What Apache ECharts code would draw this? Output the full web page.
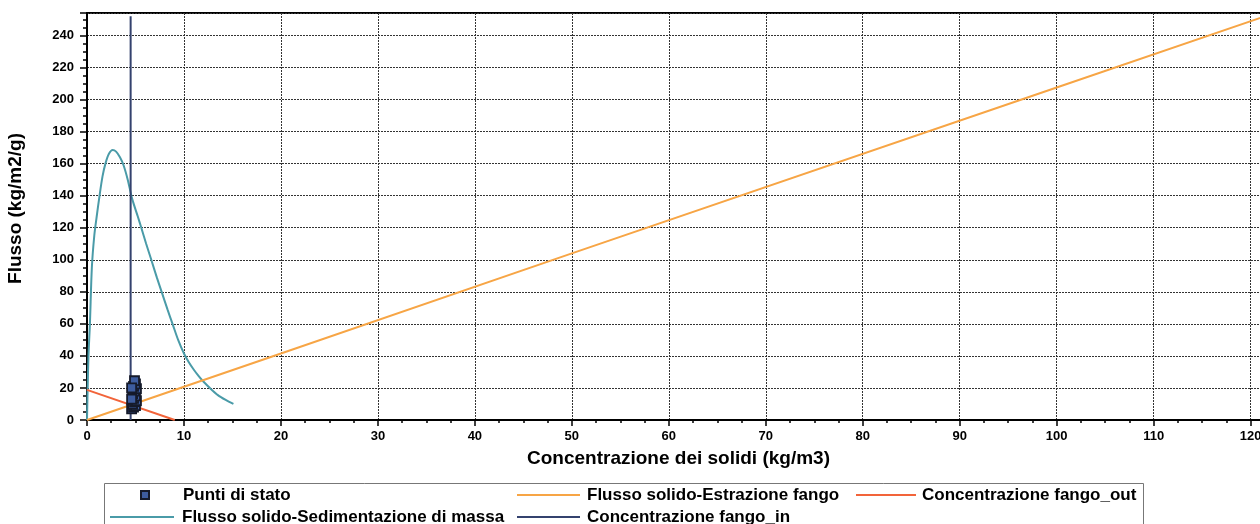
<!DOCTYPE html>
<html>
<head>
<meta charset="utf-8">
<script src="https://cdn.jsdelivr.net/npm/echarts@6/dist/echarts.min.js"></script>
<style>
html,body{margin:0;padding:0;background:#fff;overflow:hidden;}
#chart{width:1260px;height:524px;}
</style>
</head>
<body>
<div id="chart"></div>
<script>
// ---- data ----
var seriesNames = [
  'Punti di stato',
  'Flusso solido-Sedimentazione di massa',
  'Flusso solido-Estrazione fango',
  'Concentrazione fango_in',
  'Concentrazione fango_out'
];
var puntiDiStato = [
  [4.6, 7], [4.8, 8], [5.0, 9], [4.7, 10], [4.9, 11.5], [5.1, 12],
  [4.8, 13.5], [5.0, 15], [4.7, 16.5], [4.9, 18], [5.1, 19.5],
  [4.8, 21], [5.0, 22.5], [4.9, 24.5], [4.6, 20], [4.6, 13]
];
var sedimentazione = [
  [0, 0], [0.05, 15], [0.15, 40], [0.3, 60], [0.5, 95], [0.75, 115],
  [1.0, 127], [1.27, 139], [1.6, 152], [1.9, 160], [2.25, 166],
  [2.65, 168.5], [3.0, 167.5], [3.4, 164], [3.77, 159], [4.2, 150],
  [4.66, 138], [5.24, 127], [5.6, 120], [6.1, 110], [6.63, 100],
  [7.2, 89], [7.75, 79], [8.3, 69], [8.85, 59.5], [9.4, 50], [10, 41.5],
  [10.5, 36], [11, 31.5], [11.5, 27.5], [12, 24], [12.75, 19.5],
  [13.5, 15.5], [14.3, 12.5], [15.1, 10]
];
var estrazione = [[0, 0], [20, 41.5], [50, 104], [100, 207.5], [122, 253]];
var fangoIn = [[4.5, 0], [4.5, 252]];
var fangoOut = [[0, 18.8], [9.05, 0]];

var xName = 'Concentrazione dei solidi (kg/m3)';
var yName = 'Flusso (kg/m2/g)';

var FONT = '"Liberation Sans", Arial, sans-serif';
var colors = {
  punti: '#3d5c9e',
  sed: '#4a9ba8',
  estr: '#f7a545',
  fin: '#34426e',
  fout: '#f2643a'
};

function legendItem(name, left, top, w, h, pad) {
  return {
    show: true,
    data: [{ name: name, icon: 'rect' }],
    left: left,
    top: top,
    orient: 'horizontal',
    padding: 0,
    itemWidth: w,
    itemHeight: h,
    selectedMode: false,
    textStyle: {
      fontFamily: FONT, fontWeight: 'bold', fontSize: 17, color: '#000',
      lineHeight: 16, padding: [0, 0, 0, pad]
    }
  };
}

var chart = echarts.init(document.getElementById('chart'));
chart.setOption({
  animation: false,
  backgroundColor: '#fff',
  grid: {
    left: 87, width: 1183, top: 13, bottom: 104,
    outerBoundsMode: 'none', containLabel: false,
    show: true, borderColor: '#000', borderWidth: 2, backgroundColor: 'transparent'
  },
  graphic: [{
    type: 'rect',
    shape: { x: 104.5, y: 483.5, width: 1039, height: 60 },
    style: { fill: 'none', stroke: '#777', lineWidth: 1 },
    z: 0
  }],
  legend: [
    legendItem(seriesNames[0], 140, 486.5, 8, 8, 29),
    legendItem(seriesNames[2], 517, 486.5, 63, 2, 2),
    legendItem(seriesNames[4], 856, 486.5, 60, 2, 1),
    legendItem(seriesNames[1], 110, 508.5, 64, 2, 3),
    legendItem(seriesNames[3], 517, 508.5, 63, 2, 2)
  ],
  xAxis: {
    type: 'value',
    min: 0, max: 122, interval: 10,
    name: xName, nameLocation: 'middle', nameGap: 29,
    nameTextStyle: { fontFamily: FONT, fontWeight: 'bold', fontSize: 19, color: '#000' },
    axisLine: { show: true, onZero: false, lineStyle: { color: '#000', width: 2 } },
    axisTick: { show: true, inside: false, length: 6, lineStyle: { color: '#000', width: 1.5 } },
    minorTick: { show: true, splitNumber: 4, length: 3, lineStyle: { color: '#000', width: 1.5 } },
    axisLabel: {
      showMaxLabel: false, margin: 10,
      fontFamily: FONT, fontWeight: 'bold', fontSize: 13, color: '#000'
    },
    splitLine: { show: true, lineStyle: { color: '#333', width: 1, type: [2, 1] } }
  },
  yAxis: {
    type: 'value',
    min: 0, max: 254, interval: 20,
    name: yName, nameLocation: 'middle', nameGap: 62, nameRotate: 90,
    nameTextStyle: {
      fontFamily: FONT, fontWeight: 'bold', fontSize: 19, color: '#000',
      padding: [0, 0, 0, 16]
    },
    axisLine: { show: true, onZero: false, lineStyle: { color: '#000', width: 2 } },
    axisTick: { show: true, inside: false, length: 7, lineStyle: { color: '#000', width: 1.5 } },
    minorTick: { show: true, splitNumber: 4, length: 4, lineStyle: { color: '#000', width: 1.5 } },
    axisLabel: {
      showMaxLabel: false, margin: 13,
      fontFamily: FONT, fontWeight: 'bold', fontSize: 13, color: '#000'
    },
    splitLine: { show: true, lineStyle: { color: '#333', width: 1, type: [2, 1] } }
  },
  series: [
    {
      name: seriesNames[1], type: 'line', data: sedimentazione,
      smooth: 0.3, symbol: 'none', showSymbol: false,
      lineStyle: { color: colors.sed, width: 2 }, itemStyle: { color: colors.sed }, z: 3
    },
    {
      name: seriesNames[2], type: 'line', data: estrazione,
      symbol: 'none', showSymbol: false,
      lineStyle: { color: colors.estr, width: 2 }, itemStyle: { color: colors.estr }, z: 3
    },
    {
      name: seriesNames[4], type: 'line', data: fangoOut,
      symbol: 'none', showSymbol: false,
      lineStyle: { color: colors.fout, width: 2 }, itemStyle: { color: colors.fout }, z: 4
    },
    {
      name: seriesNames[3], type: 'line', data: fangoIn,
      symbol: 'none', showSymbol: false,
      lineStyle: { color: colors.fin, width: 2 }, itemStyle: { color: colors.fin }, z: 4
    },
    {
      name: seriesNames[0], type: 'scatter', data: puntiDiStato,
      symbol: 'rect', symbolSize: 9,
      itemStyle: { color: colors.punti, borderColor: '#151a2a', borderWidth: 1.8, opacity: 1 }, z: 5
    }
  ]
});
</script>
</body>
</html>
